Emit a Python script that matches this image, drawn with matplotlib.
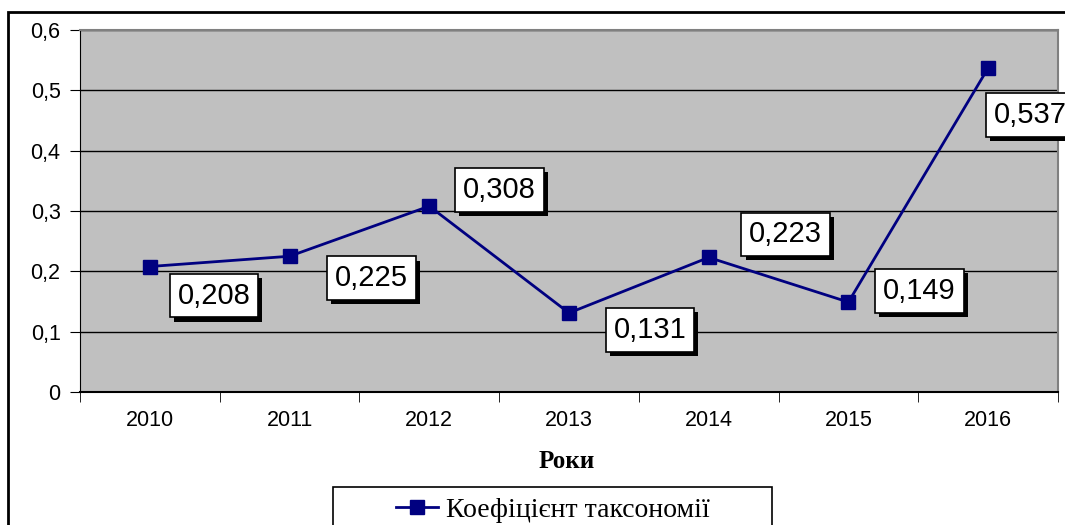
import matplotlib
matplotlib.use("Agg")
import matplotlib.pyplot as plt
import matplotlib.patheffects as pe
from matplotlib.patches import Rectangle

#data
years = ["2010", "2011", "2012", "2013", "2014", "2015", "2016"]
values = [0.208, 0.225, 0.308, 0.131, 0.223, 0.149, 0.537]
labels = ["0,208", "0,225", "0,308", "0,131", "0,223", "0,149", "0,537"]
yticks = [0, 0.1, 0.2, 0.3, 0.4, 0.5, 0.6]
ytick_labels = ["0", "0,1", "0,2", "0,3", "0,4", "0,5", "0,6"]
# label box offsets from the marker, pixels (right, up)
label_off = [(64, -29), (82, -22), (70, 16), (81, -17), (77, 23), (71, 11), (42, -47)]

W, H = 1065, 525
fig = plt.figure(figsize=(W / 100, H / 100), dpi=100)
ax = fig.add_axes([80 / W, (H - 392) / H, (1058 - 80) / W, (392 - 30) / H])
ax.set_facecolor("#c0c0c0")

x = list(range(len(years)))
ax.plot(x, values, color="#000080", lw=2, marker="s", markersize=9.5,
        label="Коефіцієнт таксономії", zorder=3)

ax.set_xlim(-0.5, 6.5)
ax.set_ylim(0, 0.6)
ax.set_yticks(yticks)
ax.set_yticklabels(ytick_labels, fontfamily="Liberation Sans", fontsize=15.5)
ax.set_xticks(x)
ax.set_xticklabels(years, fontfamily="Liberation Sans", fontsize=15.5)
ax.set_xticks([i - 0.5 for i in range(len(years) + 1)], minor=True)
ax.tick_params(axis="x", which="major", length=0, pad=13)
ax.tick_params(axis="x", which="minor", length=7, direction="out", color="black")
ax.tick_params(axis="y", length=7, direction="out", color="black", pad=7)

ax.grid(axis="y", color="black", lw=1)
ax.set_axisbelow(True)
for s in ["top", "right"]:
    ax.spines[s].set_color("#808080")
    ax.spines[s].set_linewidth(1.5)
ax.spines["left"].set_color("black")
ax.spines["bottom"].set_color("black")
ax.spines["bottom"].set_linewidth(1.5)

for xi, v, t, (dx, dy) in zip(x, values, labels, label_off):
    a = ax.annotate(t, (xi, v), xytext=(dx * 0.72, dy * 0.72), textcoords="offset points",
                    ha="center", va="center", fontsize=21, fontfamily="Liberation Sans",
                    bbox=dict(boxstyle="square,pad=0.27", fc="white", ec="black", lw=1.2),
                    annotation_clip=False, zorder=4)
    a.get_bbox_patch().set_path_effects([
        pe.SimplePatchShadow(offset=(3, -3), shadow_rgbFace="black", alpha=1),
        pe.Normal()])

fig.text(567 / W, 1 - 462 / H, "Роки", ha="center", va="center",
         fontfamily="Liberation Serif", fontweight="bold", fontsize=18)

# outer chart border and legend box
fig.add_artist(Rectangle((8 / W, -0.1), 2, (H - 12) / H + 0.1, transform=fig.transFigure,
                         fill=False, ec="black", lw=2, clip_on=False))
fig.add_artist(Rectangle((333 / W, -0.1), (772 - 333) / W, (H - 487) / H + 0.1,
                         transform=fig.transFigure, fill=False, ec="black", lw=1.2))
fig.legend(loc="center", bbox_to_anchor=(553 / W, 1 - 510 / H), frameon=False,
           prop={"family": "Liberation Serif", "size": 20},
           handlelength=1.5, handletextpad=0.3)

fig.savefig("out.png", dpi=100)
